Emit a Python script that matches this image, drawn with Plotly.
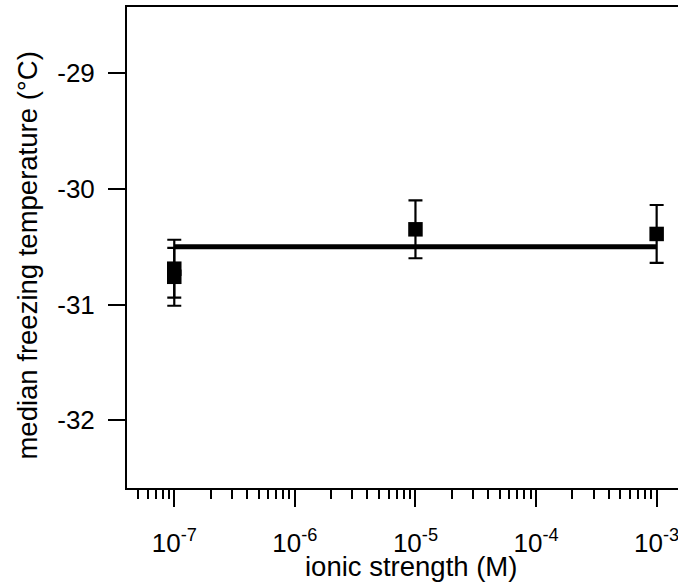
import plotly.graph_objects as go

# data
ionic_strength = [1e-7, 1e-7, 1e-5, 1e-3]
median_temp = [-30.69, -30.76, -30.35, -30.39]
temp_err = [0.25, 0.25, 0.25, 0.25]
fit_x = [1e-7, 1e-3]
fit_y = [-30.50, -30.50]
x_tickvals = [1e-7, 1e-6, 1e-5, 1e-4, 1e-3]
x_ticktext = ["10<sup>-7</sup>", "10<sup>-6</sup>", "10<sup>-5</sup>", "10<sup>-4</sup>", "10<sup>-3</sup>"]
y_tickvals = [-29, -30, -31, -32]
y_ticktext = ["-29", "-30", "-31", "-32"]

FONT = "Liberation Sans, Arial, sans-serif"
FS = 26
TFS = 27.5

fig = go.Figure()
fig.add_trace(go.Scatter(
    x=fit_x, y=fit_y, mode="lines",
    line=dict(color="black", width=5), showlegend=False, hoverinfo="skip"))
fig.add_trace(go.Scatter(
    x=ionic_strength, y=median_temp, mode="markers",
    marker=dict(symbol="square", size=14.5, color="black", line=dict(width=0)),
    error_y=dict(type="data", array=temp_err, visible=True, color="black",
                 thickness=2.2, width=7),
    showlegend=False))

fig.update_layout(
    width=678, height=583,
    margin=dict(l=127, r=0, t=7, b=95),
    paper_bgcolor="white", plot_bgcolor="white",
    font=dict(family=FONT, size=FS, color="black"),
    xaxis=dict(
        type="log", range=[-7.392, -2.823],
        tickmode="array", tickvals=x_tickvals, ticktext=x_ticktext,
        ticks="outside", ticklen=17, tickwidth=2, tickcolor="black",
        ticklabelstandoff=14, ticklabeloverflow="allow",
        showline=True, linecolor="black", linewidth=2, mirror=True,
        showgrid=False, zeroline=False,
        minor=dict(ticks="outside", ticklen=9, tickwidth=2, tickcolor="black",
                   dtick="D1", showgrid=False),
        tickfont=dict(family=FONT, size=FS, color="black"),
    ),
    yaxis=dict(
        range=[-32.584, -28.43],
        tickmode="array", tickvals=y_tickvals, ticktext=y_ticktext,
        ticks="outside", ticklen=17, tickwidth=2, tickcolor="black",
        ticklabelstandoff=8,
        showline=True, linecolor="black", linewidth=2, mirror=False,
        showgrid=False, zeroline=False,
        tickfont=dict(family=FONT, size=FS, color="black"),
    ),
    annotations=[
        dict(text="ionic strength (M)", xref="paper", yref="paper",
             x=0.5157, y=-0.1636, xanchor="center", yanchor="middle",
             showarrow=False, font=dict(family=FONT, size=TFS, color="black")),
        dict(text="median freezing temperature (°C)", xref="paper", yref="paper",
             x=-0.1808, y=0.484, xanchor="center", yanchor="middle", textangle=-90,
             showarrow=False, font=dict(family=FONT, size=TFS, color="black")),
    ],
)

fig.write_html(
    "out.html",
    config={"displayModeBar": False},
    post_script="document.body.style.margin='0';document.body.style.overflow='hidden';",
)
